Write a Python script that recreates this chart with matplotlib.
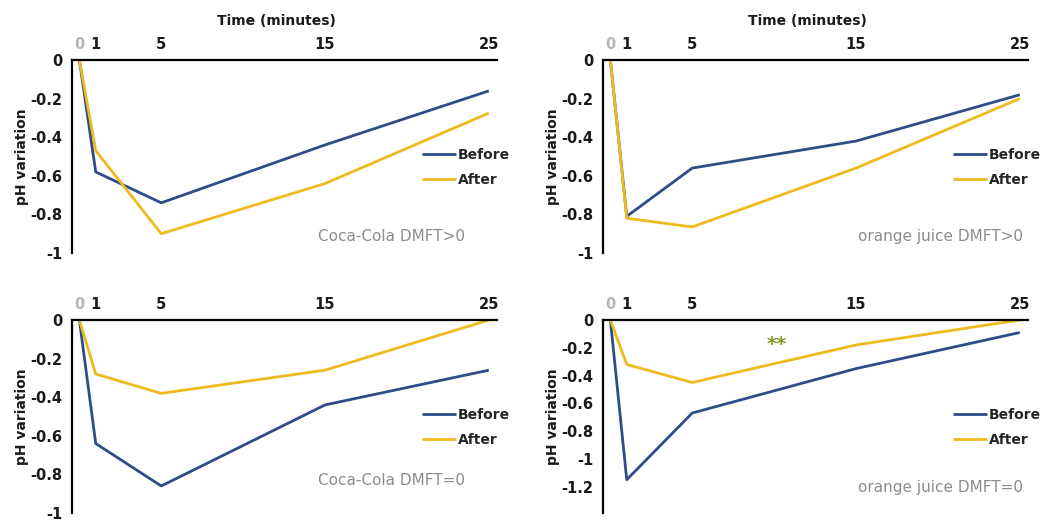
import matplotlib
matplotlib.use("Agg")
import matplotlib.pyplot as plt

plt.rcParams['font.family'] = ['DejaVu Sans']

times = [0, 1, 5, 15, 25]
tick_labels = ["0", "1", "5", "15", "25"]

cc_pos_before = [0, -0.58, -0.74, -0.44, -0.16]
cc_pos_after = [0, -0.47, -0.90, -0.64, -0.275]
oj_pos_before = [0, -0.81, -0.56, -0.42, -0.18]
oj_pos_after = [0, -0.82, -0.865, -0.56, -0.20]
cc_zero_before = [0, -0.64, -0.86, -0.44, -0.26]
cc_zero_after = [0, -0.28, -0.38, -0.26, 0.0]
oj_zero_before = [0, -1.15, -0.67, -0.35, -0.09]
oj_zero_after = [0, -0.32, -0.45, -0.18, 0.0]

panel_titles = ["Coca-Cola DMFT>0", "orange juice DMFT>0",
                "Coca-Cola DMFT=0", "orange juice DMFT=0"]
series_names = ["Before", "After"]

BLUE = '#2E4D86'
GOLD = '#EEBA1E'

W, H = 1041, 529
fig = plt.figure(figsize=(W / 100, H / 100), dpi=100)

panels = [
    dict(rect=(72, 60), before=cc_pos_before, after=cc_pos_after, title=panel_titles[0],
         ylim=(-1, 0), yticks=[0, -0.2, -0.4, -0.6, -0.8, -1], tpos=(0.925, 0.083), xl=True),
    dict(rect=(603, 60), before=oj_pos_before, after=oj_pos_after, title=panel_titles[1],
         ylim=(-1, 0), yticks=[0, -0.2, -0.4, -0.6, -0.8, -1], tpos=(0.988, 0.083), xl=True),
    dict(rect=(72, 320), before=cc_zero_before, after=cc_zero_after, title=panel_titles[2],
         ylim=(-1, 0), yticks=[0, -0.2, -0.4, -0.6, -0.8, -1], tpos=(0.925, 0.166), xl=False),
    dict(rect=(603, 320), before=oj_zero_before, after=oj_zero_after, title=panel_titles[3],
         ylim=(-1.39, 0), yticks=[0, -0.2, -0.4, -0.6, -0.8, -1, -1.2], tpos=(0.988, 0.13), xl=False),
]

aw, ah = 425, 193

def fmt(v):
    if v == 0:
        return "0"
    s = f"{v:.1f}"
    if s.endswith(".0"):
        s = s[:-2]
    return s

for i, p in enumerate(panels):
    x0, y0 = p['rect']
    ax = fig.add_axes([x0 / W, 1 - (y0 + ah) / H, aw / W, ah / H])
    ax.plot(times, p['before'], color=BLUE, lw=2.0, label=series_names[0], solid_capstyle='butt')
    ax.plot(times, p['after'], color=GOLD, lw=2.0, label=series_names[1], solid_capstyle='butt')
    ax.set_xlim(-0.45, 25.5)
    ax.set_ylim(*p['ylim'])
    ax.xaxis.tick_top()
    ax.set_xticks(times)
    ax.set_xticklabels(tick_labels)
    ax.set_yticks(p['yticks'])
    ax.set_yticklabels([fmt(v) for v in p['yticks']])
    ax.tick_params(axis='both', length=0, labelsize=10.5, colors='#1a1a1a')
    ax.tick_params(axis='x', pad=6)
    ax.tick_params(axis='y', pad=7)
    for lab in ax.get_xticklabels() + ax.get_yticklabels():
        lab.set_fontweight('bold')
    ax.get_xticklabels()[0].set_color('#b5b5b5')
    for s in ['right', 'bottom']:
        ax.spines[s].set_visible(False)
    for s in ['left', 'top']:
        ax.spines[s].set_linewidth(1.6)
        ax.spines[s].set_color('black')
    ax.patch.set_alpha(0)
    leg = ax.legend(loc='center left', bbox_to_anchor=(0.824, 0.443), frameon=False,
                    borderaxespad=0, borderpad=0, handlelength=2.4, handletextpad=0.15,
                    labelspacing=0.75, prop=dict(size=10, weight='bold'))
    for t in leg.get_texts():
        t.set_color('#262626')
    ax.text(p['tpos'][0], p['tpos'][1], p['title'], transform=ax.transAxes,
            ha='right', va='center', fontsize=11, color='#8c8c8c')
    fig.text((x0 - 50) / W, 1 - (y0 + ah / 2) / H, "pH variation", rotation=90,
             ha='center', va='center', fontsize=10, fontweight='bold', color='#1a1a1a')
    if p['xl']:
        fig.text((x0 + 204) / W, 1 - 21 / H, "Time (minutes)", ha='center', va='center',
                 fontsize=10, fontweight='bold', color='#1a1a1a')
    if i == 3:
        ax.text(10.15, -0.18, "**", ha='center', va='center', fontsize=14,
                fontweight='bold', color='#8a9a2a')

fig.savefig("out.png", dpi=100)
